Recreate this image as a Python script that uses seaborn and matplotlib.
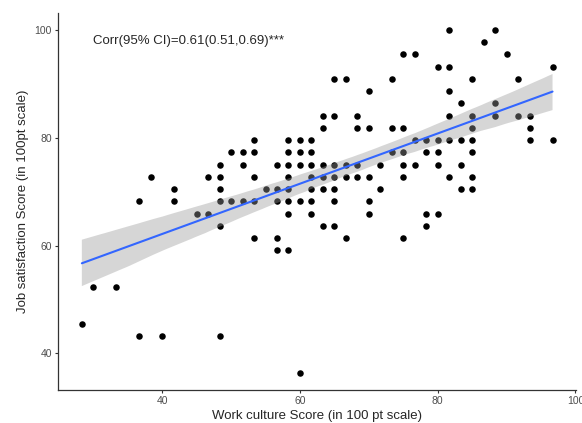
import numpy as np
import pandas as pd
import matplotlib
matplotlib.use("Agg")
import matplotlib.pyplot as plt
import seaborn as sns

# raw item-sum grid positions (x: k/60*100, y: j/44*100)
culture_steps = [
    17, 18, 20, 22, 24, 29, 36,
    22, 23, 25, 25, 27, 28, 28,
    29, 29, 29, 29, 29, 30, 30, 31, 31, 31,
    32, 32, 32, 32, 32, 33, 34, 34, 34, 34, 34,
    35, 35, 35, 35, 35, 35, 35, 35, 36, 36, 36, 36,
    37, 37, 37, 37, 37, 37, 37,
    38, 38, 38, 38, 38, 38, 39, 39, 39, 39, 39, 39, 39,
    40, 40, 40, 40, 41, 41, 41, 41, 42, 42, 42, 42, 42,
    43, 43, 44, 44, 44, 45, 45, 45, 45, 45, 45, 46, 46, 46,
    47, 47, 47, 47, 48, 48, 48, 48, 48, 49, 49, 49, 49, 49, 49,
    50, 50, 50, 50, 51, 51, 51, 51, 51, 51, 51, 52, 53, 53, 53,
    54, 55, 55, 56, 56, 56, 58, 58,
]
satisfaction_steps = [
    20, 23, 23, 19, 19, 19, 16,
    30, 32, 30, 31, 29, 29, 32,
    28, 30, 31, 32, 33, 30, 34, 30, 33, 34,
    27, 30, 32, 34, 35, 31, 26, 27, 30, 31, 33,
    26, 29, 30, 31, 32, 33, 34, 35, 30, 33, 34, 35,
    29, 30, 31, 32, 33, 34, 35,
    37, 36, 33, 32, 31, 28, 40, 37, 33, 32, 31, 30, 28,
    40, 33, 32, 27, 37, 36, 33, 32, 39, 36, 32, 30, 29,
    33, 31, 40, 36, 34, 42, 36, 34, 33, 32, 27, 42, 35, 33,
    35, 34, 29, 28, 41, 35, 34, 33, 29, 44, 41, 39, 37, 35, 32,
    38, 35, 33, 31, 40, 37, 36, 35, 34, 32, 31, 43, 44, 38, 37,
    42, 40, 37, 37, 36, 35, 41, 35,
]

df = pd.DataFrame({
    "culture": np.array(culture_steps) * 100 / 60,
    "satisfaction": np.array(satisfaction_steps) * 100 / 44,
})

sns.set_style("ticks")
plt.rcParams["font.family"] = ["Liberation Sans", "DejaVu Sans"]

fig = plt.figure(figsize=(5.82, 4.23), dpi=100)
ax = fig.add_axes([0.1, 0.078, 0.89, 0.892])

sns.regplot(
    data=df, x="culture", y="satisfaction", ax=ax, ci=95, seed=0,
    scatter_kws={"s": 22, "color": "black", "linewidths": 0, "alpha": 1},
    line_kws={"color": "#3366FF", "lw": 1.5},
    truncate=True,
)
# ggplot-style grey confidence band
band = ax.collections[1]
band.set_facecolor("#999999")
band.set_alpha(0.4)
band.set_edgecolor("none")

ax.set_xlim(24.9, 100.1)
ax.set_ylim(33.2, 103.2)
ax.set_xticks([40, 60, 80, 100])
ax.set_yticks([40, 60, 80, 100])
ax.tick_params(colors="#333333", labelcolor="#4D4D4D", labelsize=7.5,
               length=2.5, width=0.8, pad=2)
for side in ["left", "bottom"]:
    ax.spines[side].set_color("#333333")
    ax.spines[side].set_linewidth(0.9)
sns.despine(ax=ax)

ax.set_xlabel("Work culture Score (in 100 pt scale)", fontsize=9.5, labelpad=3)
ax.set_ylabel("Job satisfaction Score (in 100pt scale)", fontsize=9.5, labelpad=4)
ax.text(30.0, 98, "Corr(95% CI)=0.61(0.51,0.69)***", fontsize=9.5,
        ha="left", va="center")

fig.savefig("out.png", dpi=100)
